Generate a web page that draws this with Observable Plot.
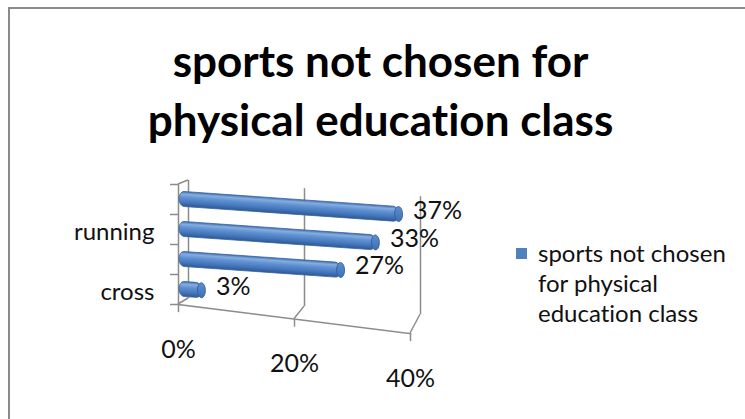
<!DOCTYPE html>
<html>
<head>
<meta charset="utf-8">
<script src="https://cdn.jsdelivr.net/npm/d3@7"></script>
<script src="https://cdn.jsdelivr.net/npm/@observablehq/plot@0.6"></script>
<style>
  html, body { margin: 0; padding: 0; background: #fff; }
  #wrap { position: relative; width: 745px; height: 419px; overflow: hidden; background: #fff; font-family: Lato, "Open Sans", sans-serif; color: #111; font-variant-ligatures: none; }
  #frame { position: absolute; left: 8px; top: 7px; width: 800px; height: 500px; border-top: 2px solid #8a8a8a; border-left: 2px solid #8a8a8a; }
  #title { position: absolute; left: 8px; top: 31px; width: 745px; text-align: center; font-weight: bold; font-size: 44px; line-height: 59px; color: #000; font-variant-ligatures: none; }
  #chart { position: absolute; left: 0; top: 0; }
  #chart svg text { font-variant-ligatures: none; }
  #legend { position: absolute; left: 516px; top: 238px; font-size: 24px; line-height: 30px; color: #111; }
  #legend .sw { position: absolute; left: 0; top: 10px; width: 11px; height: 11px; background: #4F81BD; }
  #legend .tx { position: absolute; left: 22px; top: 0; white-space: nowrap; }
</style>
</head>
<body>
<div id="wrap">
  <div id="frame"></div>
  <div id="title">sports not chosen for<br>physical education class</div>
  <div id="chart"></div>
  <div id="legend"><div class="sw"></div><div class="tx" id="legendText"></div></div>
</div>
<script>
// ---- data ----
const seriesName = "sports not chosen for physical education class";
const categories = ["(unlabeled 1)", "running", "(unlabeled 2)", "cross"]; // top to bottom
const values = [0.37, 0.33, 0.27, 0.03];
const categoryTickLabels = ["running", "cross"];
const xTicks = [0, 0.2, 0.4];
const legendLines = ["sports not chosen", "for physical", "education class"];

const data = categories.map((c, i) => ({cat: c, value: values[i]}));
const fmt = d3.format(".0%");

// ---- pseudo-3D planes (offset + skew) ----
const GRID = "#8c8c8c";
const TEXT = "#111";
const BACK = {tx: 4, ty: -4, k: 0.07};
const MID = {tx: 0, ty: 0, k: 0.07};
const FRONT = {tx: -6, ty: 0, k: 0.125};

function plane(p) {
  return (index, scales, values, dims, ctx, next) => {
    const g = next(index, scales, values, dims, ctx);
    const x0 = scales.x(0);
    const w = document.createElementNS("http://www.w3.org/2000/svg", "g");
    w.setAttribute("transform", `translate(${p.tx},${p.ty}) matrix(1,${p.k},0,1,0,${-p.k * x0})`);
    w.appendChild(g);
    return w;
  };
}
function planeText(p) {
  return (index, scales, values, dims, ctx, next) => {
    const g = next(index, scales, values, dims, ctx);
    const x0 = scales.x(0);
    g.querySelectorAll("text").forEach(t => {
      const tr = t.getAttribute("transform");
      const m = tr && tr.match(/translate\(\s*([-\d.e]+)[\s,]+([-\d.e]+)\s*\)/);
      const X = m ? +m[1] : (+t.getAttribute("x") || 0);
      const off = p.k * (X - x0);
      t.setAttribute("transform", `translate(${p.tx},${p.ty + off})` + (tr ? " " + tr : ""));
    });
    return g;
  };
}

const chart = Plot.plot({
  width: 745,
  height: 419,
  marginTop: 184,
  marginBottom: 115,
  marginLeft: 184,
  marginRight: 329,
  style: {background: "transparent", fontFamily: "Lato, 'Open Sans', sans-serif", fontSize: "22px", color: TEXT, overflow: "visible"},
  x: {domain: [0, 0.4], axis: null},
  y: {domain: categories, padding: 0, label: null},
  marks: [
    // back wall gridlines
    Plot.ruleX(xTicks, {x: d => d, stroke: GRID, strokeWidth: 1.5, insetBottom: 2, render: plane(BACK)}),
    // floor / wall connectors
    Plot.ruleX(xTicks, {x: d => d, render: (index, scales, values, dims) => {
      const g = d3.create("svg:g").attr("stroke", GRID).attr("stroke-width", 1.5).attr("fill", "none");
      const x0 = scales.x(0);
      const yb = dims.height - dims.marginBottom;
      const yt = dims.marginTop;
      for (const i of index) {
        const X = scales.x(xTicks[i]);
        const bx = X + BACK.tx, by = yb - 2 + BACK.ty + BACK.k * (X - x0);
        const fx = X + FRONT.tx, fy = yb + FRONT.ty + FRONT.k * (X - x0);
        g.append("path").attr("d", `M${bx},${by}L${fx},${fy}`);
      }
      g.append("path").attr("d", `M${x0 + BACK.tx},${yt + BACK.ty}L${x0 + FRONT.tx},${yt}`);
      return g.node();
    }}),
    // front-left vertical axis line
    Plot.ruleX([0], {x: d => d, stroke: GRID, strokeWidth: 1.5, render: plane(FRONT)}),
    // category boundary ticks
    Plot.axisY({label: null, tickSize: 8, tickFormat: () => "", dx: FRONT.tx, dy: -15, stroke: GRID, strokeWidth: 1.5}),
    Plot.axisY({label: null, ticks: [categories[categories.length - 1]], tickSize: 8, tickFormat: () => "", dx: FRONT.tx, dy: 15, stroke: GRID, strokeWidth: 1.5}),
    // category labels
    Plot.axisY({label: null, ticks: categoryTickLabels, tickSize: 0, tickPadding: 30, fontSize: 24, dy: 3, fill: TEXT}),
    // floor front edge
    Plot.frame({anchor: "bottom", stroke: GRID, strokeWidth: 1.5, render: plane(FRONT)}),
    // x ticks
    Plot.ruleX(xTicks, {x: d => d, insetTop: 120, insetBottom: -8, stroke: GRID, strokeWidth: 1.5, render: plane(FRONT)}),
    // x tick labels
    Plot.text(xTicks, {x: d => d, frameAnchor: "bottom", dy: 53, text: d => fmt(d), fontSize: 25, fill: TEXT, render: planeText(FRONT)}),
    // cylinders
    Plot.barX(data, {x: "value", y: "cat", fill: "url(#cyl)", stroke: "#36649f", strokeWidth: 0.8, insetTop: 7.5, insetBottom: 7.5, insetLeft: -5, rx: 5, ry: 7.5, render: plane(MID)}),
    Plot.barX(data, {x1: "value", x2: "value", y: "cat", fill: "url(#cap)", stroke: "#2f5a94", strokeWidth: 0.8, insetTop: 7.5, insetBottom: 7.5, insetLeft: -4, insetRight: -4, rx: 4, ry: 7.5, render: plane(MID)}),
    // value labels
    Plot.text(data, {x: "value", y: "cat", text: d => fmt(d.value), dx: 14, dy: -4, textAnchor: "start", fontSize: 25, fill: TEXT, render: planeText(MID)})
  ]
});

const defs = d3.select(chart).insert("defs", ":first-child");
const lg = defs.append("linearGradient").attr("id", "cyl").attr("x1", 0).attr("y1", 0).attr("x2", 0).attr("y2", 1);
[[0, "#3f70b2"], [0.18, "#86addf"], [0.4, "#5f91d3"], [0.75, "#4274b8"], [1, "#2d5895"]]
  .forEach(([o, c]) => lg.append("stop").attr("offset", o).attr("stop-color", c));
const cg = defs.append("linearGradient").attr("id", "cap").attr("x1", 0).attr("y1", 0).attr("x2", 0).attr("y2", 1);
[[0, "#5d8ed0"], [1, "#3d6fb3"]].forEach(([o, c]) => cg.append("stop").attr("offset", o).attr("stop-color", c));

document.getElementById("chart").appendChild(chart);
document.getElementById("legendText").innerHTML = legendLines.join("<br>");
document.getElementById("legendText").setAttribute("title", seriesName);
</script>
</body>
</html>
